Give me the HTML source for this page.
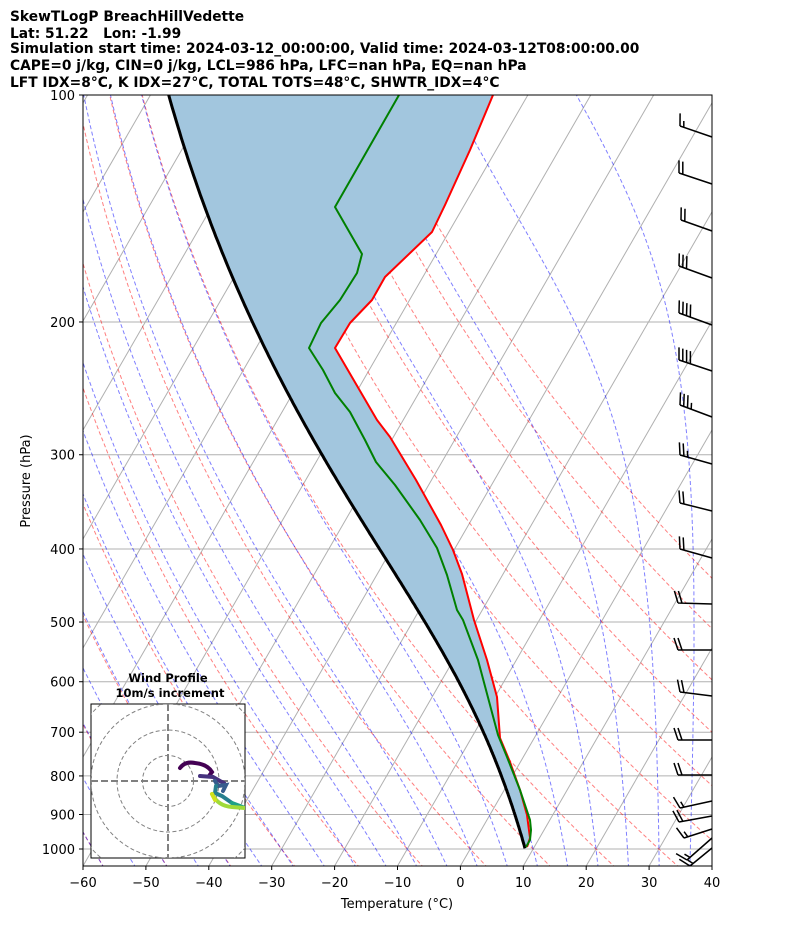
<!DOCTYPE html>
<html><head><meta charset="utf-8"><style>
html,body{margin:0;padding:0;background:#fff;}
svg{display:block;font-family:"DejaVu Sans","Liberation Sans",sans-serif;}
</style></head><body>
<svg id="s" width="794" height="937" viewBox="0 0 794 937" xmlns="http://www.w3.org/2000/svg">
<defs><clipPath id="pc"><rect x="83" y="95" width="629" height="771"/></clipPath>
<clipPath id="hc"><rect x="91" y="704" width="154" height="154"/></clipPath></defs>
<g font-weight="bold" font-size="13.8" fill="#000">
<text x="10" y="21">SkewTLogP BreachHillVedette</text>
<text x="10" y="38">Lat: 51.22&#160;&#160;&#160;Lon: -1.99</text>
<text x="10" y="53">Simulation start time: 2024-03-12_00:00:00, Valid time: 2024-03-12T08:00:00.00</text>
<text x="10" y="70">CAPE=0 j/kg, CIN=0 j/kg, LCL=986 hPa, LFC=nan hPa, EQ=nan hPa</text>
<text x="10" y="87">LFT IDX=8°C, K IDX=27°C, TOTAL TOTS=48°C, SHWTR_IDX=4°C</text>
</g>
<g id="bg" clip-path="url(#pc)"></g>
<g id="fg" clip-path="url(#pc)"></g>
<g id="barbs" stroke="#000" stroke-width="1.5" fill="none"></g>
<rect x="83" y="95" width="629" height="771" fill="none" stroke="#000" stroke-width="1"/>
<g id="ax" font-size="13" fill="#000"></g>
<text x="397" y="908" font-size="13" text-anchor="middle">Temperature (°C)</text>
<text transform="translate(30,481) rotate(-90)" font-size="13" text-anchor="middle">Pressure (hPa)</text>
<g id="hodo"></g>
</svg>
<script>
var NS="http://www.w3.org/2000/svg";
function el(par,tag,a,txt){var e=document.createElementNS(NS,tag);for(var k in a)e.setAttribute(k,a[k]);if(txt!==undefined)e.textContent=txt;par.appendChild(e);return e;}
function Y(p){return 95+(Math.log10(p)-2)*754;}
function X(T,p){return 83+(T+60)*6.29+(866-Y(p))*0.577;}
var bg=document.getElementById('bg'),fg=document.getElementById('fg'),ax=document.getElementById('ax');
function pts(arr){return arr.map(function(q){return q[0].toFixed(1)+','+q[1].toFixed(1);}).join(' ');}
for(var p=100;p<=1000;p+=100){var y=Y(p);el(bg,'line',{x1:83,x2:712,y1:y,y2:y,stroke:'#b0b0b0','stroke-width':1});
 el(ax,'line',{x1:79,x2:83,y1:y,y2:y,stroke:'#000'});el(ax,'text',{x:75,y:y+5,'text-anchor':'end'},String(p));}
for(var T=-180;T<=40;T+=10){el(bg,'line',{x1:X(T,1060),y1:Y(1060),x2:X(T,95),y2:Y(95),stroke:'#b0b0b0','stroke-width':1});}
for(var T=-60;T<=40;T+=10){var x=83+(T+60)*6.29;el(ax,'line',{x1:x,x2:x,y1:866,y2:870,stroke:'#000'});
 el(ax,'text',{x:x,y:887,'text-anchor':'middle'},(T<0?'\u2212'+(-T):String(T)));}
for(var t0=-60;t0<=90;t0+=10){var a=[];for(var p=1060;p>=95;p-=5){var T=(t0+273.15)*Math.pow(p/1000,0.2857)-273.15;a.push([X(T,p),Y(p)]);}
 el(bg,'polyline',{points:pts(a),fill:'none',stroke:'rgba(255,0,0,0.5)','stroke-width':1,'stroke-dasharray':'4,2.5'});}
function dTdp(T,p){var Tc=T-273.15;var es=6.112*Math.exp(17.67*Tc/(Tc+243.5));var rs=0.622*es/(p-es);
 var Rd=287.04,Cp=1005.7,Lv=2.501e6;return (Rd*T+Lv*rs)/(p*(Cp+Lv*Lv*rs*0.622/(Rd*T*T)));}
function moist(t0,p0,pend,step){var T=t0+273.15,p=p0,out=[[T-273.15,p]];var h=(pend<p0?-step:step);
 while((h<0&&p>pend)||(h>0&&p<pend)){var k1=dTdp(T,p),k2=dTdp(T+h/2*k1,p+h/2),k3=dTdp(T+h/2*k2,p+h/2),k4=dTdp(T+h*k3,p+h);
  T+=h/6*(k1+2*k2+2*k3+k4);p+=h;out.push([T-273.15,p]);}return out;}
for(var t0=-60;t0<=90;t0+=5){var up=moist(t0,1000,95,2),dn=moist(t0,1000,1060,2);var all=dn.reverse().concat(up);
 el(bg,'polyline',{points:pts(all.map(function(q){return [X(q[0],q[1]),Y(q[1])];})),fill:'none',stroke:'rgba(0,0,255,0.5)','stroke-width':1,'stroke-dasharray':'4,2.5'});}
var Tp=(525-83-(866-Y(998))*0.577)/6.29-60;
var par=moist(Tp,998,100,2).map(function(q){return [X(q[0],q[1]),Y(q[1])];});
var red=[[493,95],[470,150],[445,205],[432,232],[385,277],[372,300],[350,323],[335,348],[377,420],[390,437],[416,480],[441,525],[453,550],[462,574],[474,620],[487,660],[497,697],[500,738],[510,762],[520,790],[527,815],[530,838],[527,847]];
var grn=[[399,95],[335,207],[362,254],[357,273],[340,300],[321,323],[309,348],[323,370],[335,393],[350,412],[365,440],[376,462],[395,485],[420,520],[437,548],[447,575],[457,610],[463,620],[478,660],[498,735],[507,757],[520,790],[526,808],[530,820],[531,830],[530,840],[526,847]];
var poly=par.concat(red);
el(fg,'polygon',{points:pts(poly),fill:'rgb(162,198,222)',stroke:'none'});
el(fg,'polyline',{points:pts(par),fill:'none',stroke:'#000','stroke-width':3});
el(fg,'polyline',{points:pts(red),fill:'none',stroke:'#ff0000','stroke-width':2,'stroke-linejoin':'round'});
el(fg,'polyline',{points:pts(grn),fill:'none',stroke:'#008000','stroke-width':2,'stroke-linejoin':'round'});
var bb=document.getElementById('barbs');
var B=[[137,680,126,1.5],[184,679,173,2],[231,681,220,2],[278,679,266,3],[325,679,313,4],[371,679,360,4],[417,680,405,3.5],[464,680,455,2.5],[511,680,503,2],[558,680,549,2],[604,678,603,2],[650,678,650,2],[696,680,692,2],[740,678,740,2],[775,678,775,2],[801,680,808,1.5],[816,679,822,2],[829,684,838,1.5],[838,687,860,1.5],[848,690,866,1.5]];
B.forEach(function(b){var xr=712,yr=b[0],xl=b[1],yl=b[2];var d='M'+xr+','+yr+'L'+xl+','+yl;
 var L=Math.hypot(xl-xr,yl-yr),ux=(xl-xr)/L,uy=(yl-yr)/L;var nx=uy,ny=-ux;
 if(ny>0){nx=-nx;ny=-ny;}
 var n=b[3],i=0;for(var k=0;k<Math.floor(n);k++){var sx=xl-ux*4*k,sy=yl-uy*4*k;d+='M'+sx.toFixed(1)+','+sy.toFixed(1)+'L'+(sx+nx*12+ux*4).toFixed(1)+','+(sy+ny*12+uy*4).toFixed(1);i=k+1;}
 if(n%1){var sx=xl-ux*4*i,sy=yl-uy*4*i;d+='M'+sx.toFixed(1)+','+sy.toFixed(1)+'L'+(sx+nx*6+ux*2).toFixed(1)+','+(sy+ny*6+uy*2).toFixed(1);}
 el(bb,'path',{d:d});});
var h=document.getElementById('hodo');
el(h,'rect',{x:91,y:704,width:154,height:154,fill:'#fff',stroke:'#000','stroke-width':1});
el(h,'text',{x:168,y:682,'font-size':'11.5','font-weight':'bold','text-anchor':'middle'},'Wind Profile');
el(h,'text',{x:170,y:697,'font-size':'11.5','font-weight':'bold','text-anchor':'middle'},'10m/s increment');
var hg=el(h,'g',{'clip-path':'url(#hc)'});
[25.5,51,77,102].forEach(function(r){el(hg,'circle',{cx:168,cy:781,r:r,fill:'none',stroke:'#808080','stroke-width':1,'stroke-dasharray':'4,2.5'});});
el(hg,'line',{x1:91,x2:245,y1:781,y2:781,stroke:'#808080','stroke-width':2,'stroke-dasharray':'7,3'});
el(hg,'line',{x1:168,x2:168,y1:704,y2:858,stroke:'#808080','stroke-width':2,'stroke-dasharray':'7,3'});
var segs=[['#440154','M180,768 Q185,761 195,763 Q207,764 212,772 L209,776'],['#46327e','M200,776 L213,777 L220,781 L224,783'],['#365c8d','M215,781 L218,786 L226,785 L223,791'],['#277f8e','M216,786 L215,793 L222,796 L232,803'],['#1fa187','M232,803 L240,806 L245,808'],['#a0da39','M212,794 Q218,806 232,807 L245,808'],['#d0e11c','M212,794 L215,800']];
segs.forEach(function(s){el(hg,'path',{d:s[1],fill:'none',stroke:s[0],'stroke-width':4,'stroke-linecap':'round'});});
</script>
</body></html>
